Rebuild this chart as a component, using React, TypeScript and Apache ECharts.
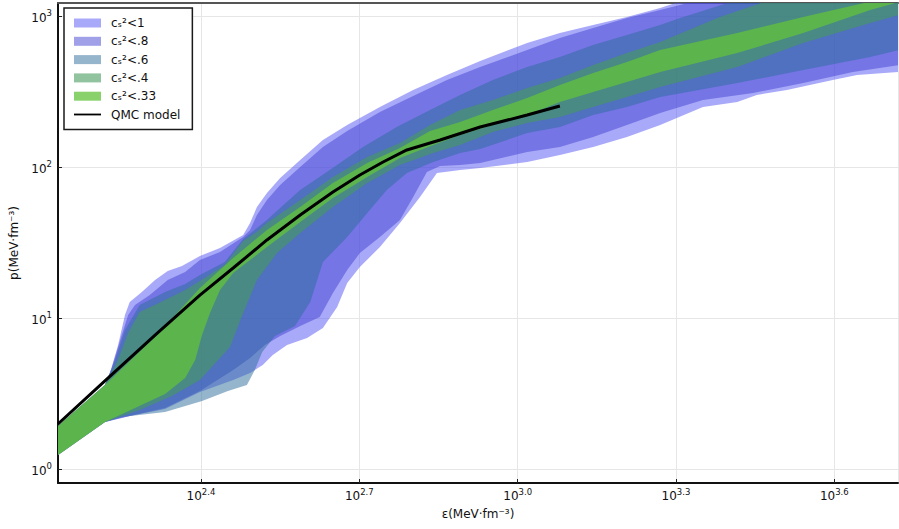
import React, { useEffect, useRef } from 'react';
import * as echarts from 'echarts';

// All values are log10(ε / MeV·fm⁻³), log10(p / MeV·fm⁻³)
const cs1Upper = [[2.129,0.285],[2.218,0.556],[2.228,0.642],[2.243,0.821],[2.256,1.020],[2.265,1.106],[2.288,1.172],[2.313,1.252],[2.337,1.311],[2.364,1.344],[2.398,1.411],[2.436,1.464],[2.480,1.550],[2.493,1.629],[2.506,1.735],[2.525,1.828],[2.550,1.927],[2.588,2.046],[2.631,2.179],[2.677,2.278],[2.739,2.397],[2.802,2.510],[2.866,2.609],[2.929,2.702],[3.018,2.821],[3.080,2.887],[3.143,2.940],[3.207,2.993],[3.270,3.053],[3.345,3.139],[3.723,3.45]];
const cs1Lower = [[2.129,0.093],[2.218,0.311],[2.265,0.351],[2.332,0.397],[2.398,0.510],[2.461,0.589],[2.493,0.636],[2.517,0.689],[2.536,0.755],[2.563,0.821],[2.601,0.868],[2.631,0.934],[2.658,1.073],[2.677,1.232],[2.701,1.338],[2.739,1.470],[2.777,1.629],[2.815,1.801],[2.847,1.960],[2.891,1.980],[2.929,1.993],[3.018,2.033],[3.080,2.079],[3.143,2.132],[3.207,2.199],[3.270,2.278],[3.351,2.397],[3.416,2.430],[3.453,2.477],[3.510,2.510],[3.597,2.576],[3.643,2.609],[3.723,2.629]];

const cs08Upper = [[2.129,0.285],[2.218,0.556],[2.231,0.669],[2.247,0.854],[2.262,1.020],[2.275,1.086],[2.303,1.152],[2.337,1.252],[2.370,1.305],[2.398,1.384],[2.436,1.437],[2.480,1.536],[2.493,1.583],[2.506,1.682],[2.525,1.781],[2.550,1.881],[2.588,2.000],[2.631,2.132],[2.677,2.238],[2.739,2.364],[2.802,2.470],[2.866,2.576],[2.929,2.662],[3.018,2.775],[3.080,2.854],[3.143,2.921],[3.207,2.987],[3.270,3.040],[3.345,3.106],[3.723,3.437]];
const cs08Lower = [[2.129,0.093],[2.218,0.311],[2.265,0.351],[2.332,0.404],[2.398,0.517],[2.461,0.656],[2.493,0.735],[2.521,0.821],[2.550,0.881],[2.588,0.947],[2.625,1.007],[2.650,1.166],[2.677,1.318],[2.701,1.430],[2.739,1.536],[2.777,1.649],[2.802,1.801],[2.828,1.967],[2.853,2.007],[2.891,2.013],[2.929,2.026],[3.018,2.099],[3.080,2.132],[3.143,2.199],[3.207,2.278],[3.270,2.358],[3.351,2.444],[3.446,2.490],[3.541,2.556],[3.635,2.629],[3.723,2.675]];

const cs06Upper = [[2.129,0.285],[2.218,0.556],[2.237,0.722],[2.256,0.921],[2.284,1.086],[2.332,1.172],[2.370,1.225],[2.398,1.285],[2.445,1.371],[2.480,1.523],[2.506,1.596],[2.525,1.649],[2.550,1.728],[2.588,1.848],[2.644,1.980],[2.707,2.132],[2.771,2.265],[2.834,2.377],[2.891,2.477],[2.953,2.576],[3.018,2.662],[3.080,2.728],[3.143,2.808],[3.207,2.874],[3.270,2.940],[3.308,2.987],[3.416,3.106],[3.723,3.404]];
const cs06Lower = [[2.129,0.093],[2.218,0.311],[2.250,0.344],[2.332,0.377],[2.402,0.450],[2.451,0.517],[2.487,0.556],[2.502,0.656],[2.516,0.775],[2.540,0.881],[2.578,0.947],[2.607,1.106],[2.631,1.371],[2.677,1.536],[2.715,1.695],[2.752,1.848],[2.790,1.960],[2.840,2.033],[2.891,2.093],[2.929,2.119],[3.018,2.225],[3.080,2.265],[3.143,2.344],[3.207,2.397],[3.270,2.464],[3.416,2.556],[3.541,2.642],[3.668,2.728],[3.723,2.775]];

const cs04Upper = [[2.129,0.285],[2.218,0.556],[2.241,0.709],[2.262,0.901],[2.284,1.040],[2.332,1.119],[2.370,1.185],[2.398,1.245],[2.445,1.351],[2.480,1.510],[2.506,1.570],[2.525,1.629],[2.588,1.781],[2.650,1.934],[2.715,2.066],[2.777,2.159],[2.834,2.278],[2.891,2.377],[2.953,2.444],[3.018,2.523],[3.080,2.589],[3.143,2.675],[3.207,2.755],[3.270,2.828],[3.383,2.993],[3.478,3.106],[3.723,3.338]];
const cs04Lower = [[2.129,0.093],[2.218,0.311],[2.284,0.391],[2.345,0.483],[2.398,0.589],[2.455,0.808],[2.480,1.033],[2.506,1.252],[2.544,1.430],[2.588,1.563],[2.650,1.735],[2.715,1.894],[2.777,2.013],[2.840,2.093],[2.891,2.146],[2.953,2.232],[3.018,2.291],[3.080,2.331],[3.143,2.397],[3.207,2.464],[3.270,2.530],[3.416,2.662],[3.541,2.821],[3.668,2.954],[3.723,3.007]];

const cs033Upper = [[2.129,0.285],[2.218,0.556],[2.313,0.874],[2.398,1.199],[2.461,1.397],[2.525,1.583],[2.588,1.735],[2.650,1.894],[2.715,2.026],[2.777,2.126],[2.834,2.238],[2.891,2.298],[2.953,2.377],[3.018,2.457],[3.080,2.543],[3.143,2.623],[3.207,2.695],[3.270,2.775],[3.416,2.887],[3.541,2.993],[3.681,3.106],[3.723,3.146]];
const cs033Lower = [[2.129,0.093],[2.218,0.311],[2.275,0.404],[2.332,0.497],[2.370,0.603],[2.389,0.722],[2.402,0.887],[2.417,1.033],[2.436,1.185],[2.461,1.298],[2.525,1.470],[2.588,1.636],[2.650,1.795],[2.715,1.934],[2.777,2.060],[2.840,2.146],[2.891,2.212],[2.953,2.278],[3.018,2.344],[3.080,2.430],[3.143,2.497],[3.207,2.563],[3.270,2.629],[3.416,2.755],[3.541,2.887],[3.668,3.040],[3.723,3.093]];

const qmcModel = [[2.129,0.298],[2.218,0.583],[2.313,0.887],[2.398,1.152],[2.461,1.331],[2.525,1.517],[2.588,1.682],[2.650,1.834],[2.701,1.947],[2.745,2.033],[2.790,2.113],[2.853,2.179],[2.929,2.265],[3.018,2.344],[3.080,2.404]];

const bandNames = ['cₛ²<1', 'cₛ²<.8', 'cₛ²<.6', 'cₛ²<.4', 'cₛ²<.33'];
const bandColors = [
  'rgba(83,83,243,0.5)',
  'rgba(65,65,209,0.5)',
  'rgba(43,107,155,0.5)',
  'rgba(70,155,94,0.6)',
  'rgba(98,195,57,0.75)',
];
const bandUppers = [cs1Upper, cs08Upper, cs06Upper, cs04Upper, cs033Upper];
const bandLowers = [cs1Lower, cs08Lower, cs06Lower, cs04Lower, cs033Lower];

const xMin = 2.1291;
const xMax = 3.7206;
const yMin = -0.0927;
const yMax = 3.0861;

const FONT = 'DejaVu Sans';

function makeBand(name: string, upper: number[][], lower: number[][], color: string) {
  const poly = upper.concat(lower.slice().reverse());
  return {
    type: 'custom',
    name,
    clip: true,
    silent: true,
    data: poly,
    encode: { x: 0, y: 1 },
    itemStyle: { color },
    renderItem: (params: any, api: any) => {
      if (params.dataIndex !== 0) return null;
      const pts = poly.map((p) => api.coord(p));
      return { type: 'polygon', shape: { points: pts }, style: { fill: color } };
    },
  };
}

const richLabel = {
  b: { fontSize: 12, fontFamily: FONT, color: '#111', verticalAlign: 'bottom', lineHeight: 15 },
  e: { fontSize: 8.5, fontFamily: FONT, color: '#111', verticalAlign: 'top', lineHeight: 6 },
};

export default function App() {
  const ref = useRef<HTMLDivElement>(null);
  useEffect(() => {
    const chart = echarts.init(ref.current!, null, { renderer: 'svg' });
    const series: any[] = bandNames.map((n, i) => makeBand(n, bandUppers[i], bandLowers[i], bandColors[i]));
    series.push({
      type: 'line',
      name: 'QMC model',
      data: qmcModel,
      symbol: 'none',
      silent: true,
      z: 10,
      lineStyle: { color: '#000', width: 3 },
      itemStyle: { color: '#000' },
    });
    const option: any = {
      animation: false,
      backgroundColor: '#ffffff',
      textStyle: { fontFamily: FONT },
      grid: { left: 58, right: 1, top: 3, bottom: 46 },
      legend: {
        orient: 'vertical',
        left: 64,
        top: 8,
        padding: [9, 12, 9, 10],
        backgroundColor: '#ffffff',
        borderColor: '#1a1a1a',
        borderWidth: 1.5,
        borderRadius: 0,
        itemWidth: 27,
        itemHeight: 9,
        itemGap: 6.3,
        selectedMode: false,
        textStyle: { fontFamily: FONT, fontSize: 12, color: '#111', padding: [0, 0, 0, 5] },
        data: [
          ...bandNames.map((n, i) => ({ name: n, icon: 'rect', itemStyle: { color: bandColors[i] } })),
          { name: 'QMC model', icon: 'path://M0,0L27,0L27,1.8L0,1.8Z', itemStyle: { color: '#000' } },
        ],
      },
      xAxis: [
        {
          type: 'value',
          min: xMin,
          max: xMax,
          splitNumber: 5,
          name: 'ε(MeV·fm⁻³)',
          nameLocation: 'middle',
          nameGap: 25,
          nameTextStyle: { fontFamily: FONT, fontSize: 12, color: '#111' },
          axisLine: { show: true, onZero: false, lineStyle: { color: '#111', width: 2 } },
          axisTick: { show: true, inside: true, length: 4, lineStyle: { color: '#222', width: 1 } },
          axisLabel: {
            margin: 4,
            showMinLabel: false,
            showMaxLabel: false,
            formatter: (v: number) => {
              const r = Math.round(v * 10) / 10;
              if (Math.abs(v - r) > 1e-6) return '';
              return `{b|10}{e|${r.toFixed(1)}}`;
            },
            rich: richLabel,
          },
          splitLine: { show: true, lineStyle: { color: '#e6e6e6', width: 1 } },
        },
        {
          type: 'value',
          position: 'top',
          min: xMin,
          max: xMax,
          axisLine: { show: true, onZero: false, lineStyle: { color: '#555', width: 2 } },
          axisTick: { show: false },
          axisLabel: { show: false },
          splitLine: { show: false },
        },
      ],
      yAxis: {
        type: 'value',
        min: yMin,
        max: yMax,
        splitNumber: 3,
        name: 'p(MeV·fm⁻³)',
        nameLocation: 'middle',
        nameGap: 34,
        nameTextStyle: { fontFamily: FONT, fontSize: 12, color: '#111' },
        axisLine: { show: true, onZero: false, lineStyle: { color: '#111', width: 2 } },
        axisTick: { show: true, inside: true, length: 4, lineStyle: { color: '#222', width: 1 } },
        axisLabel: {
          margin: 6,
          showMinLabel: false,
          showMaxLabel: false,
          formatter: (v: number) => {
            const r = Math.round(v);
            if (Math.abs(v - r) > 1e-6) return '';
            return `{b|10}{e|${r}}`;
          },
          rich: richLabel,
        },
        splitLine: { show: true, lineStyle: { color: '#e6e6e6', width: 1 } },
      },
      series,
    };
    chart.setOption(option);
    return () => chart.dispose();
  }, []);
  return <div ref={ref} style={{ position: 'fixed', left: 0, top: 0, width: 899, height: 529 }} />;
}
